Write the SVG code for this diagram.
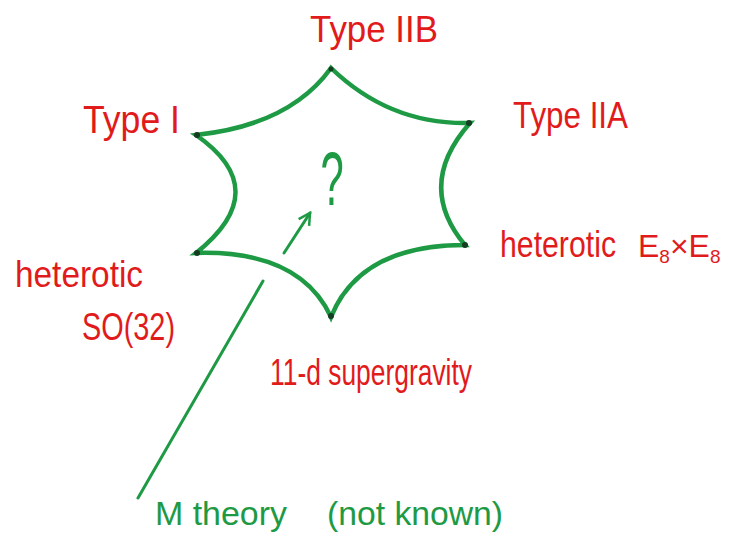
<svg xmlns="http://www.w3.org/2000/svg" width="729" height="551" viewBox="0 0 729 551">
<style>
.r{fill:#e11b1b;font-family:"Liberation Sans",Arial,sans-serif;font-size:36px}
.g{fill:#1e9a45;font-family:"Liberation Sans",Arial,sans-serif;font-size:34px}
.edge{fill:none;stroke:#1e9a45;stroke-width:4.5;stroke-linecap:round}
.v{fill:#143d22}
.sub{font-size:19px}
</style>
<defs>
<marker id="ah" viewBox="0 0 12 12" refX="10" refY="6" markerWidth="5" markerHeight="5" orient="auto" markerUnits="strokeWidth">
<path d="M1,1 L10,6 L1,11" fill="none" stroke="#1e9a45" stroke-width="2"/>
</marker>
</defs>
<rect width="729" height="551" fill="#ffffff"/>
<g id="star">
<path class="edge" d="M331,68 Q390,125 470,123 Q415,185 465,245 Q360,245 331,317 Q300,250 196,253 Q275,190 196,135 Q290,125 331,68 Z"/>
<circle class="v" cx="331" cy="69" r="2.5"/>
<circle class="v" cx="469" cy="123" r="3"/>
<circle class="v" cx="465" cy="245" r="3"/>
<circle class="v" cx="331" cy="316" r="3"/>
<circle class="v" cx="197" cy="253" r="3"/>
<circle class="v" cx="197" cy="135" r="3"/>
<text x="0" y="0" class="g" style="font-size:76px" text-anchor="middle" transform="translate(332,205) scale(0.55,1)">?</text>
</g>
<g id="typeIIB"><text class="r" x="310" y="42" textLength="128" lengthAdjust="spacingAndGlyphs">Type IIB</text></g>
<g id="typeI"><text class="r" x="83" y="133" style="font-size:38px" textLength="97" lengthAdjust="spacingAndGlyphs">Type I</text></g>
<g id="typeIIA"><text class="r" x="513" y="128" textLength="115" lengthAdjust="spacingAndGlyphs">Type IIA</text></g>
<g id="hetE8">
<text class="r" x="500" y="257" textLength="116" lengthAdjust="spacingAndGlyphs">heterotic</text>
<text class="r" x="638" y="257" style="font-size:32px">E<tspan class="sub" dy="6">8</tspan><tspan dy="-6">×E</tspan><tspan class="sub" dy="6">8</tspan></text>
</g>
<g id="hetSO32">
<text class="r" x="15" y="287" textLength="128" lengthAdjust="spacingAndGlyphs">heterotic</text>
<text class="r" x="82" y="340" style="font-size:38px" textLength="93" lengthAdjust="spacingAndGlyphs">SO(32)</text>
</g>
<g id="sugra"><text class="r" x="270" y="385" textLength="202" lengthAdjust="spacingAndGlyphs">11-d supergravity</text></g>
<g id="mtheory">
<text class="g" x="155" y="525" textLength="132" lengthAdjust="spacingAndGlyphs">M theory</text>
<text class="g" x="327" y="525" textLength="176" lengthAdjust="spacingAndGlyphs">(not known)</text>
</g>
<g id="connectors">
<line class="edge" x1="284" y1="253" x2="310" y2="213" style="stroke-width:3" marker-end="url(#ah)"/>
<line class="edge" x1="263" y1="281" x2="138" y2="498" style="stroke-width:3"/>
</g>
</svg>
